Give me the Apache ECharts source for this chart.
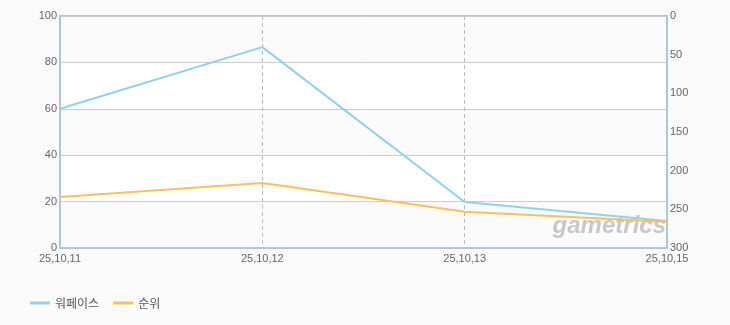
<!DOCTYPE html>
<html><head><meta charset="utf-8">
<script src="https://cdn.jsdelivr.net/npm/echarts@6/dist/echarts.min.js"></script>
<style>html,body{margin:0;padding:0;background:#fafafa}#c{width:730px;height:325px}</style>
</head><body><div id="c"></div>
<script>
var categories = ['25,10,11', '25,10,12', '25,10,13', '25,10,15'];
var seriesNames = ['워페이스', '순위'];
var usersValues = [60, 86.6, 19.8, 11.6];
var rankValues = [234, 216, 253, 266];
var leftTicks = [0, 100, 20];
var rightTicks = [0, 300, 50];

var chart = echarts.init(document.getElementById('c'), null, {renderer: 'canvas'});
var lab = {color: '#666', fontSize: 11, fontFamily: 'Liberation Sans, Arial, sans-serif'};
var axisLineStyle = {show: true, lineStyle: {color: '#b1c4d8', width: 2}};
chart.setOption({
  backgroundColor: '#fafafa',
  animation: false,
  grid: {left: 60, right: 63, top: 16, bottom: 77, show: true, borderColor: '#b1c4d8', borderWidth: 2, backgroundColor: 'transparent'},
  legend: {
    left: 25, top: 292, itemWidth: 20, itemHeight: 3, itemGap: 14,
    icon: 'rect',
    textStyle: {color: '#555', fontSize: 12, fontFamily: 'Noto Sans CJK KR, sans-serif'},
    data: seriesNames
  },
  xAxis: {
    type: 'category', data: categories, boundaryGap: false,
    axisLine: axisLineStyle, axisTick: {show: false},
    axisLabel: Object.assign({margin: 5}, lab),
    splitLine: {show: true, lineStyle: {color: '#bbb', type: [4, 3], width: 1}}
  },
  yAxis: [{
    type: 'value', min: leftTicks[0], max: leftTicks[1], interval: leftTicks[2],
    axisLine: axisLineStyle, axisTick: {show: false},
    axisLabel: Object.assign({margin: 3}, lab),
    splitLine: {show: true, lineStyle: {color: '#ccc', width: 1}},
    splitArea: {show: true, areaStyle: {color: ['#fbfbfb', '#ffffff']}}
  }, {
    type: 'value', position: 'right', inverse: true,
    min: rightTicks[0], max: rightTicks[1], interval: rightTicks[2],
    axisLine: axisLineStyle, axisTick: {show: false},
    axisLabel: Object.assign({margin: 3}, lab),
    splitLine: {show: false}
  }],
  graphic: [{
    type: 'text', right: 64, top: 214, z: 1,
    style: {text: 'gametrics', fill: '#c8c8c8', font: 'italic bold 24px Liberation Sans, Arial, sans-serif'}
  }],
  series: [{
    name: seriesNames[0], type: 'line', yAxisIndex: 0, data: usersValues,
    symbol: 'none', lineStyle: {color: '#8fd1f0', width: 2}, itemStyle: {color: '#8fd1f0'}, z: 3
  }, {
    name: seriesNames[1], type: 'line', yAxisIndex: 1, data: rankValues,
    symbol: 'none', lineStyle: {color: '#ffbe5c', width: 2}, itemStyle: {color: '#ffbe5c'}, z: 4
  }]
});
</script></body></html>
